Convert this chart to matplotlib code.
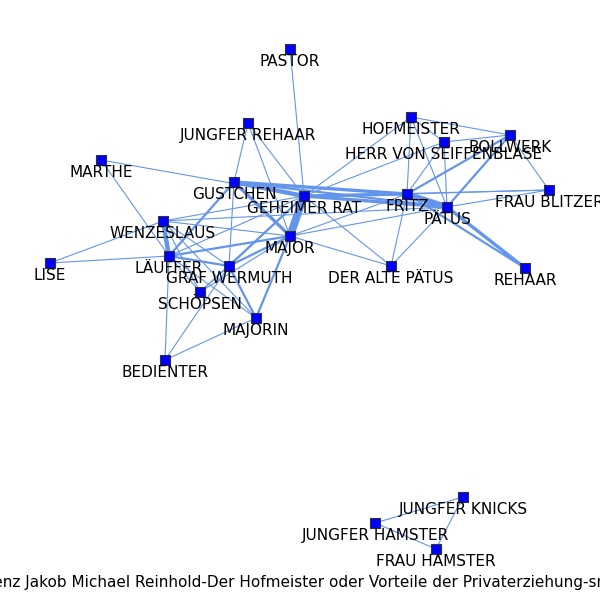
import matplotlib
matplotlib.use("Agg")
import matplotlib.pyplot as plt

# Figuren und ihre Positionen (Pixel im 600x600 Bild)
names = ["PASTOR", "JUNGFER REHAAR", "MARTHE", "GUSTCHEN", "GEHEIMER RAT", "HOFMEISTER",
         "HERR VON SEIFFENBLASE", "BOLLWERK", "FRITZ", "PÄTUS", "FRAU BLITZER", "WENZESLAUS",
         "MAJOR", "LÄUFFER", "GRAF WERMUTH", "LISE", "SCHÖPSEN", "MAJORIN", "DER ALTE PÄTUS",
         "REHAAR", "BEDIENTER", "JUNGFER KNICKS", "JUNGFER HAMSTER", "FRAU HAMSTER"]
xs = [290, 248, 101, 234, 304, 411, 444, 510, 407, 447, 549, 163,
      290, 169, 229, 50, 200, 256, 391, 525, 165, 463, 375, 436]
ys = [49, 123, 160, 182, 196, 117, 142, 135, 194, 207, 190, 221,
      236, 256, 266, 263, 292, 318, 266, 268, 360, 497, 523, 549]
pos = dict(zip(names, zip(xs, ys)))

# Kanten: (a, b, Gewicht)
edges = [
    ("PASTOR", "GEHEIMER RAT", 1),
    ("JUNGFER REHAAR", "GUSTCHEN", 1), ("JUNGFER REHAAR", "GEHEIMER RAT", 1), ("JUNGFER REHAAR", "MAJOR", 1),
    ("MARTHE", "GEHEIMER RAT", 1), ("MARTHE", "LÄUFFER", 1),
    ("GUSTCHEN", "GEHEIMER RAT", 4), ("GUSTCHEN", "FRITZ", 3), ("GUSTCHEN", "PÄTUS", 2),
    ("GUSTCHEN", "MAJOR", 3), ("GUSTCHEN", "LÄUFFER", 2), ("GUSTCHEN", "GRAF WERMUTH", 1),
    ("GEHEIMER RAT", "MAJOR", 7), ("GEHEIMER RAT", "FRITZ", 3), ("GEHEIMER RAT", "PÄTUS", 3),
    ("GEHEIMER RAT", "HOFMEISTER", 1), ("GEHEIMER RAT", "HERR VON SEIFFENBLASE", 1),
    ("GEHEIMER RAT", "DER ALTE PÄTUS", 1), ("GEHEIMER RAT", "WENZESLAUS", 1),
    ("GEHEIMER RAT", "LÄUFFER", 1), ("GEHEIMER RAT", "GRAF WERMUTH", 2),
    ("GEHEIMER RAT", "SCHÖPSEN", 1), ("GEHEIMER RAT", "FRAU BLITZER", 1),
    ("FRITZ", "PÄTUS", 5), ("FRITZ", "HOFMEISTER", 1), ("FRITZ", "HERR VON SEIFFENBLASE", 1),
    ("FRITZ", "BOLLWERK", 2), ("FRITZ", "FRAU BLITZER", 1), ("FRITZ", "REHAAR", 2),
    ("FRITZ", "DER ALTE PÄTUS", 1), ("FRITZ", "MAJOR", 1),
    ("PÄTUS", "HOFMEISTER", 1), ("PÄTUS", "HERR VON SEIFFENBLASE", 1), ("PÄTUS", "BOLLWERK", 2),
    ("PÄTUS", "FRAU BLITZER", 1), ("PÄTUS", "REHAAR", 3), ("PÄTUS", "DER ALTE PÄTUS", 1),
    ("PÄTUS", "MAJOR", 1), ("PÄTUS", "WENZESLAUS", 1),
    ("HOFMEISTER", "BOLLWERK", 1), ("HOFMEISTER", "HERR VON SEIFFENBLASE", 1),
    ("HERR VON SEIFFENBLASE", "BOLLWERK", 1), ("BOLLWERK", "FRAU BLITZER", 1),
    ("MAJOR", "WENZESLAUS", 1), ("MAJOR", "LÄUFFER", 2), ("MAJOR", "GRAF WERMUTH", 2),
    ("MAJOR", "MAJORIN", 2), ("MAJOR", "SCHÖPSEN", 1), ("MAJOR", "DER ALTE PÄTUS", 1),
    ("WENZESLAUS", "LÄUFFER", 4), ("WENZESLAUS", "LISE", 1), ("WENZESLAUS", "GRAF WERMUTH", 1),
    ("WENZESLAUS", "SCHÖPSEN", 1), ("WENZESLAUS", "MAJORIN", 1),
    ("LÄUFFER", "LISE", 1), ("LÄUFFER", "GRAF WERMUTH", 2), ("LÄUFFER", "SCHÖPSEN", 1),
    ("LÄUFFER", "BEDIENTER", 1), ("LÄUFFER", "MAJORIN", 1),
    ("GRAF WERMUTH", "MAJORIN", 2), ("GRAF WERMUTH", "SCHÖPSEN", 1), ("GRAF WERMUTH", "BEDIENTER", 1),
    ("BEDIENTER", "MAJORIN", 1),
    ("JUNGFER HAMSTER", "JUNGFER KNICKS", 1), ("JUNGFER HAMSTER", "FRAU HAMSTER", 1),
    ("JUNGFER KNICKS", "FRAU HAMSTER", 1),
]

fig = plt.figure(figsize=(6, 6), dpi=100)
ax = fig.add_axes([0, 0, 1, 1])
ax.set_xlim(0, 600)
ax.set_ylim(600, 0)
ax.axis("off")

for a, b, w in edges:
    (x1, y1), (x2, y2) = pos[a], pos[b]
    ax.plot([x1, x2], [y1, y2], color="#6495ed", lw=0.8 * w, zorder=1)

ax.scatter(xs, ys, marker="s", s=45, color="#0000ff", edgecolors="#333333", linewidths=0.8, zorder=2)
for n, x, y in zip(names, xs, ys):
    ax.text(x, y + 5, n, ha="center", va="top", fontsize=11, color="black", zorder=3)

ax.text(300, 582, "Lenz Jakob Michael Reinhold-Der Hofmeister oder Vorteile der Privaterziehung-sna",
        ha="center", va="center", fontsize=11)

fig.savefig("out.png")
